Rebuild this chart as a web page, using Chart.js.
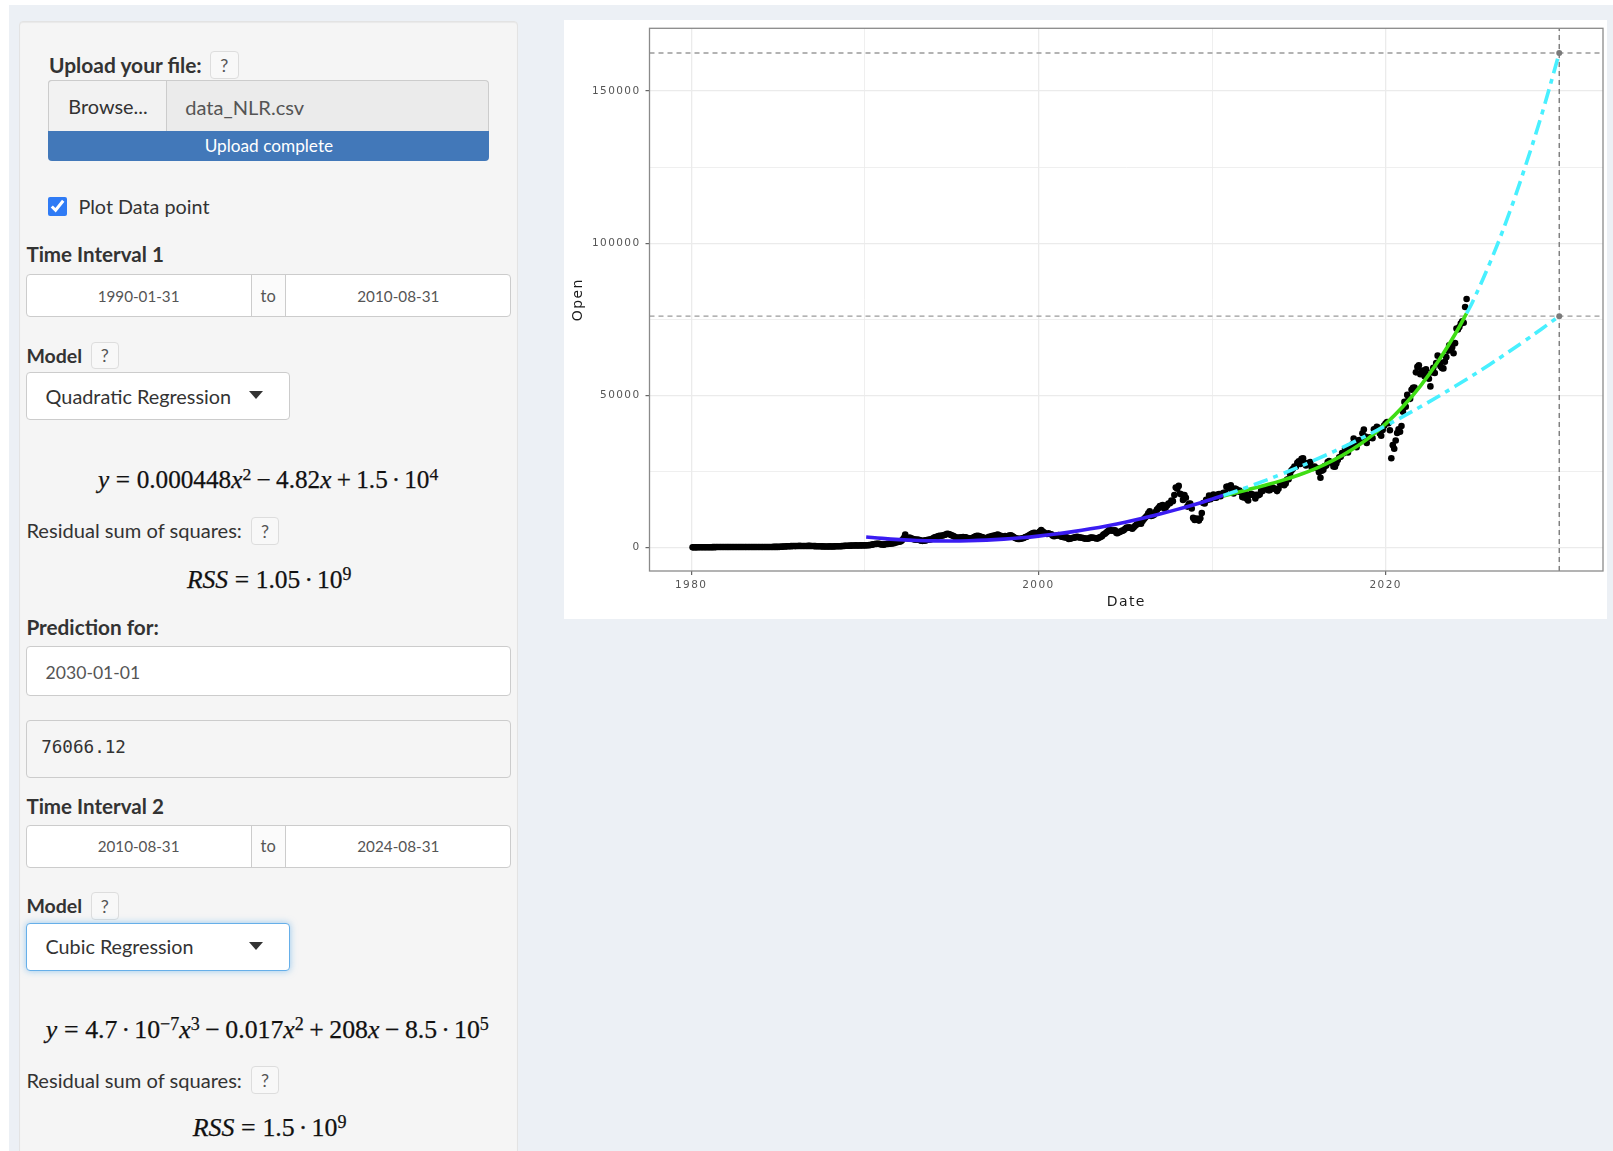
<!DOCTYPE html>
<html lang="en">
<head>
<meta charset="utf-8">
<title>Regression</title>
<script src="https://cdn.jsdelivr.net/npm/chart.js@4.4.1/dist/chart.umd.min.js"></script>
<style>
  html, body { margin: 0; padding: 0; }
  body { width: 1613px; height: 1151px; overflow: hidden; position: relative; background: #fff;
         font-family: Lato, "Noto Sans", sans-serif; color: #333; }
  #bg { position: absolute; left: 8.5px; top: 4.7px; right: 0; bottom: 0; background: #ecf0f5; }
  #sidebar { position: absolute; left: 18.6px; top: 20.7px; width: 499.4px; height: 1150px; box-sizing: border-box;
             background: #f5f5f5; border: 1px solid #e3e3e3; border-radius: 4px; box-shadow: inset 0 1px 1px rgba(0,0,0,.05); }
  .t { position: absolute; white-space: nowrap; line-height: 1; transform: translateY(-50%); font-size: 19px; }
  .c { transform: translate(-50%, -50%); }
  .b { font-weight: 700; color: #333; }
  .box { position: absolute; box-sizing: border-box; }
  .help { border: 1px solid #ddd; border-radius: 4px; background: #f8f8f8; color: #555; font-size: 18px;
          display: flex; align-items: center; justify-content: center; }
  .inp { background: #fff; border: 1px solid #ccc; border-radius: 4px; }
  .addon { background: #fbfbfb; border-left: 1px solid #ccc; border-right: 1px solid #ccc; }
  .date { font-size: 15.5px; color: #555; }
  .caret { position: absolute; width: 0; height: 0; border-left: 7.3px solid transparent; border-right: 7.3px solid transparent; border-top: 8px solid #333; }
  .m { font-family: "Liberation Serif", "DejaVu Serif", serif; font-size: 25px; color: #111; -webkit-text-stroke: 0.25px #111; }
  .m i { font-style: italic; }
  .m sup { font-size: 0.7em; position: relative; top: -0.45em; vertical-align: baseline; line-height: 0; }
  .rel { margin: 0 0.26em; }
  .bin { margin: 0 0.21em; }
  .dt { margin: 0 0.16em; }
  .mono { font-family: "DejaVu Sans Mono", "Liberation Mono", monospace; font-size: 17px; color: #333; }
  #chart { position: absolute; left: 564px; top: 20px; background: #fff; }
</style>
</head>
<body>
<div id="bg"></div>
<div id="sidebar"></div>

<!-- file upload -->
<span class="t b" data-w="152.8" style="left:49px;top:65px">Upload your file:</span>
<div class="box help" style="left:210px;top:50.7px;width:28.6px;height:28.6px">?</div>
<div class="box" style="left:48.3px;top:80px;width:441.1px;height:50.7px;border:1px solid #ccc;border-bottom:none;background:#ebebeb;border-radius:4px 4px 0 0"></div>
<div class="box" style="left:48.3px;top:80px;width:118.3px;height:50.7px;border:1px solid #ccc;border-bottom:none;background:#f2f2f2;border-radius:4px 0 0 0"></div>
<span class="t c" data-w="79.4" style="left:108px;top:106.7px;color:#333">Browse...</span>
<span class="t" data-w="119" style="left:185.2px;top:106.7px;color:#555">data_NLR.csv</span>
<div class="box" style="left:48.3px;top:130.7px;width:441.1px;height:30px;background:#4278b9;border-radius:0 0 4px 4px"></div>
<span class="t c" data-w="128.5" style="left:268.9px;top:145.7px;font-size:16px;color:#fff">Upload complete</span>

<input type="checkbox" checked style="position:absolute;left:48.3px;top:196.7px;width:19px;height:19px;margin:0;accent-color:#2f7bf5">
<span class="t" data-w="131.2" style="left:78.4px;top:206.7px">Plot Data point</span>

<!-- interval 1 -->
<span class="t b" data-w="137.6" style="left:26.4px;top:254.3px">Time Interval 1</span>
<div class="box inp" style="left:26.4px;top:274px;width:484.6px;height:42.7px"></div>
<div class="box addon" style="left:250.8px;top:275px;width:34.8px;height:40.7px"></div>
<span class="t c date" data-w="81.8" style="left:138.6px;top:296.7px">1990-01-31</span>
<span class="t c date" data-w="15.2" style="left:268.2px;top:295.5px">to</span>
<span class="t c date" data-w="82.1" style="left:398.3px;top:296.7px">2010-08-31</span>

<span class="t b" data-w="55.8" style="left:26.4px;top:356px">Model</span>
<div class="box help" style="left:90.6px;top:341.7px;width:28.4px;height:27.6px">?</div>
<div class="box inp" style="left:26.4px;top:371.7px;width:263.6px;height:48.3px"></div>
<span class="t" data-w="185.6" style="left:45.6px;top:396.7px">Quadratic Regression</span>
<div class="caret" style="left:249px;top:391px"></div>

<span class="t c m" data-w="340.4" style="left:268.2px;top:480px"><i>y</i><span class="rel">=</span>0.000448<i>x</i><sup>2</sup><span class="bin">−</span>4.82<i>x</i><span class="bin">+</span>1.5<span class="dt">·</span>10<sup>4</sup></span>

<span class="t" data-w="215.6" style="left:26.4px;top:530px">Residual sum of squares:</span>
<div class="box help" style="left:250.8px;top:516.7px;width:28.4px;height:28.3px">?</div>
<span class="t c m" data-w="164.6" style="left:269.2px;top:580px"><i>RSS</i><span class="rel">=</span>1.05<span class="dt">·</span>10<sup>9</sup></span>

<!-- prediction -->
<span class="t b" data-w="132.5" style="left:26.4px;top:626.7px">Prediction for:</span>
<div class="box inp" style="left:26.4px;top:646px;width:484.6px;height:49.7px"></div>
<span class="t" data-w="94.7" style="left:45.6px;top:672.7px;color:#555">2030-01-01</span>
<div class="box" style="left:26.4px;top:720px;width:484.6px;height:58.3px;background:#f5f5f5;border:1px solid #ccc;border-radius:4px"></div>
<span class="t mono" data-w="84.8" style="left:41.2px;top:748.3px">76066.12</span>

<!-- interval 2 -->
<span class="t b" data-w="137.6" style="left:26.4px;top:805.7px">Time Interval 2</span>
<div class="box inp" style="left:26.4px;top:825px;width:484.6px;height:43.3px"></div>
<div class="box addon" style="left:250.8px;top:826px;width:34.8px;height:41.3px"></div>
<span class="t c date" data-w="81.8" style="left:138.6px;top:846.7px">2010-08-31</span>
<span class="t c date" data-w="15.2" style="left:268.2px;top:845.5px">to</span>
<span class="t c date" data-w="82.1" style="left:398.3px;top:846.7px">2024-08-31</span>

<span class="t b" data-w="55.8" style="left:26.4px;top:906px">Model</span>
<div class="box help" style="left:90.6px;top:892.3px;width:28.4px;height:27.7px">?</div>
<div class="box inp" style="left:26.4px;top:922.7px;width:263.6px;height:48px;border-color:#66afe9;box-shadow:0 0 7px rgba(102,175,233,.65)"></div>
<span class="t" data-w="148" style="left:45.6px;top:947.3px">Cubic Regression</span>
<div class="caret" style="left:249px;top:942px"></div>

<span class="t c m" data-w="443.4" style="left:267.3px;top:1030px"><i>y</i><span class="rel">=</span>4.7<span class="dt">·</span>10<sup>−7</sup><i>x</i><sup>3</sup><span class="bin">−</span>0.017<i>x</i><sup>2</sup><span class="bin">+</span>208<i>x</i><span class="bin">−</span>8.5<span class="dt">·</span>10<sup>5</sup></span>

<span class="t" data-w="215.6" style="left:26.4px;top:1080px">Residual sum of squares:</span>
<div class="box help" style="left:250.8px;top:1065.7px;width:28.4px;height:28.6px">?</div>
<span class="t c m" data-w="153.8" style="left:269.6px;top:1128.3px"><i>RSS</i><span class="rel">=</span>1.5<span class="dt">·</span>10<sup>9</sup></span>

<canvas id="chart" width="1043" height="599"></canvas>

<script>
// Monthly "Open" values (one row per year, Jan..Dec)
const dataYears = [1980, 1981, 1982, 1983, 1984, 1985, 1986, 1987, 1988, 1989,
                   1990, 1991, 1992, 1993, 1994, 1995, 1996, 1997, 1998, 1999,
                   2000, 2001, 2002, 2003, 2004, 2005, 2006, 2007, 2008, 2009,
                   2010, 2011, 2012, 2013, 2014, 2015, 2016, 2017, 2018, 2019,
                   2020, 2021, 2022, 2023, 2024];
const dataOpen = [
  [118, 121, 125, 127, 130, 134, 139, 145, 148, 150, 153, 158],
  [165, 173, 181, 190, 201, 214, 224, 229, 221, 214, 210, 219],
  [226, 219, 211, 214, 221, 229, 234, 226, 216, 211, 214, 221],
  [229, 234, 226, 216, 211, 219, 225, 231, 234, 229, 224, 226],
  [231, 236, 240, 246, 251, 254, 249, 255, 261, 269, 266, 272],
  [282, 312, 351, 389, 421, 449, 472, 498, 519, 528, 541, 532],
  [541, 562, 598, 581, 563, 549, 541, 559, 588, 601, 582, 561],
  [532, 509, 483, 471, 459, 442, 431, 419, 412, 421, 418, 432],
  [411, 423, 438, 459, 472, 481, 502, 521, 559, 598, 621, 641],
  [662, 679, 701, 718, 742, 758, 731, 742, 761, 779, 762, 771],
  [780, 800, 850, 900, 1000, 1100, 1200, 1250, 1300, 1250, 1100, 1050],
  [1000, 1100, 1200, 1250, 1300, 1350, 1400, 1500, 1600, 1800, 1900, 1950],
  [2100, 2500, 3200, 4300, 3200, 3100, 3300, 3100, 2900, 2800, 2600, 2700],
  [2600, 2500, 2300, 2250, 2300, 2400, 2500, 2600, 2700, 2800, 3000, 3300],
  [3500, 3600, 3800, 3900, 3950, 4000, 4200, 4300, 4600, 4500, 4300, 4100],
  [3900, 3700, 3400, 3200, 3300, 3300, 3400, 3500, 3450, 3400, 3100, 3100],
  [3000, 3100, 3300, 3600, 3800, 3900, 3800, 3600, 3500, 3300, 3000, 3100],
  [3300, 3600, 3600, 3800, 3900, 4000, 4200, 4300, 4000, 3900, 3600, 3600],
  [3800, 3700, 3800, 4000, 4100, 3800, 3500, 3200, 3000, 2900, 2900, 2950],
  [3100, 3200, 3500, 3600, 3900, 4200, 4500, 4700, 4900, 4800, 4700, 4900],
  [5300, 5800, 5300, 5000, 4600, 4500, 4700, 4500, 4400, 3900, 3800, 3950],
  [4000, 4200, 3900, 3600, 3500, 3400, 3400, 3300, 2900, 2950, 3100, 3250],
  [3300, 3500, 3550, 3400, 3350, 3250, 3150, 3000, 3050, 2950, 3050, 3300],
  [3350, 3250, 3200, 3050, 3000, 3300, 3500, 3750, 4300, 4600, 5000, 5400],
  [5900, 5700, 5600, 5650, 5700, 4800, 4800, 5200, 5300, 5600, 5700, 6200],
  [6600, 6550, 6700, 6500, 6250, 6700, 7200, 7600, 7900, 8600, 7900, 8800],
  [9400, 9900, 10400, 11300, 12000, 10400, 10600, 10800, 11700, 12500, 13000, 13700],
  [13800, 14000, 12900, 13100, 13900, 14500, 14600, 15500, 15300, 17300, 19800, 19400],
  [20300, 17700, 17500, 15700, 17300, 16400, 13500, 14400, 14500, 12900, 9800, 9100],
  [9600, 9400, 8900, 9700, 11400, 14700, 14500, 15700, 15700, 17100, 15900, 16900],
  [17500, 16400, 16400, 17500, 17600, 16900, 17700, 18000, 18000, 20000, 20100, 19500],
  [20500, 18300, 17800, 19400, 19200, 18500, 18800, 18200, 16700, 16500, 17700, 16100],
  [15500, 17300, 17700, 17400, 17400, 16200, 17400, 17200, 17500, 18700, 18600, 19400],
  [19500, 19900, 18900, 18900, 19500, 19800, 19400, 19300, 18600, 19400, 21200, 20800],
  [21200, 20500, 21100, 22400, 22500, 24300, 25400, 25900, 26700, 26600, 27900, 28400],
  [27500, 29200, 29400, 27900, 27000, 27800, 27700, 28100, 26300, 26200, 26700, 26200],
  [26100, 24800, 23000, 25300, 25600, 26800, 27000, 28100, 28500, 28000, 27900, 26700],
  [26600, 27700, 28800, 29700, 29900, 31100, 31000, 32500, 31700, 31300, 33300, 33100],
  [34000, 35900, 34200, 33000, 35200, 35400, 35400, 37600, 38800, 36500, 34400, 36200],
  [36100, 36300, 36000, 38900, 39000, 39700, 39400, 37500, 36800, 38700, 40100, 40800],
  [41300, 40900, 38600, 29400, 33700, 32500, 35200, 37700, 38900, 38100, 40000, 44700],
  [47900, 46300, 50200, 49100, 48900, 51900, 52500, 52600, 57600, 59400, 59900, 57000],
  [58200, 58000, 56300, 58600, 56700, 55500, 53000, 57600, 59100, 57400, 60700, 63100],
  [61000, 59600, 59000, 58900, 61100, 62600, 64700, 66500, 65000, 65800, 63900, 67200],
  [72000, 71700, 72500, 73600, 74400, 73900, 79100, 81700]
];

// Fitted curves, read at sample dates (decimal years)
const fit1Years = [1990.08, 1991, 1992, 1993, 1994, 1995, 1996, 1997, 1998, 1999, 2000,
                   2001, 2002, 2003, 2004, 2005, 2006, 2007, 2008, 2009, 2010, 2010.66];
const fit1Open  = [3530, 3060, 2670, 2390, 2240, 2200, 2290, 2490, 2810, 3250, 3810,
                   4490, 5290, 6210, 7250, 8400, 9680, 11070, 12590, 14220, 15970, 17190];
const pred1Years = [2010.66, 2012, 2014, 2016, 2018, 2020, 2022, 2024, 2026, 2028, 2030];
const pred1Open  = [17190, 19830, 24170, 28990, 34280, 40050, 46290, 53020, 60220, 67890, 76066];
const fit2Years = [2010.66, 2012, 2013, 2014, 2015, 2016, 2017, 2018, 2019, 2020, 2021, 2022, 2023, 2024, 2024.66];
const fit2Open  = [17000, 18960, 20440, 22040, 23880, 26080, 28750, 32000, 35940, 40700, 46380, 53100, 61000, 70120, 77000];
const pred2Years = [2024.66, 2025, 2026, 2027, 2028, 2029, 2030];
const pred2Open  = [77000, 80640, 93500, 108000, 124500, 142500, 162525];

// Prediction for 2030-01-01
const predDate = 2030;
const predValues = [76066.12, 162525];

// Axes
const xMin = 1977.6, xMax = 2032.52;
const yMin = -7650, yMax = 170630;
const xBreaks = [1980, 1990, 2000, 2010, 2020, 2030];
const xLabels = ['1980', '', '2000', '', '2020', ''];
const yBreaks = [0, 25000, 50000, 75000, 100000, 125000, 150000];
const yLabels = ['0', '', '50000', '', '100000', '', '150000'];

// fit sidebar text to the widths measured on the reference
function fitTexts() {
  document.querySelectorAll('[data-w]').forEach(el => {
    const target = parseFloat(el.dataset.w);
    const base = parseFloat(getComputedStyle(el).fontSize);
    const w = el.getBoundingClientRect().width;
    if (w > 0) el.style.fontSize = (base * target / w) + 'px';
  });
}
fitTexts();

function monthEnd(y, m) {
  const start = Date.UTC(y, 0, 1), end = Date.UTC(y + 1, 0, 1);
  const d = Date.UTC(y, m + 1, 0);
  return y + (d - start) / (end - start);
}
const toPoints = (xs, ys) => xs.map((x, i) => ({ x: x, y: ys[i] }));

const openPoints = [];
dataYears.forEach((yr, i) => {
  dataOpen[i].forEach((v, m) => openPoints.push({ x: monthEnd(yr, m), y: v }));
});

function labelFor(breaks, labels, v) {
  const i = breaks.indexOf(v);
  return i >= 0 ? labels[i] : '';
}
function isMajor(breaks, labels, v) {
  return labelFor(breaks, labels, v) !== '';
}

const spacingPlugin = {
  id: 'spacing',
  beforeDraw(chart) { chart.ctx.letterSpacing = '1.4px'; },
  afterDraw(chart) { chart.ctx.letterSpacing = '0px'; }
};
const panelBorder = {
  id: 'panelBorder',
  afterDatasetsDraw(chart) {
    const { ctx, chartArea: a } = chart;
    ctx.save();
    ctx.strokeStyle = '#8a8a8a';
    ctx.lineWidth = 1.3;
    ctx.strokeRect(a.left, a.top, a.right - a.left, a.bottom - a.top);
    ctx.restore();
  }
};

const refLine = { showLine: true, pointRadius: 0, borderColor: '#9a9a9a', borderWidth: 1.4, borderDash: [5, 4] };
const fitLine = { showLine: true, pointRadius: 0, borderWidth: 3.6, tension: 0.4 };

new Chart(document.getElementById('chart'), {
  type: 'scatter',
  data: {
    datasets: [
      { label: 'prediction', data: predValues.map(v => ({ x: predDate, y: v })), pointRadius: 3,
        pointBackgroundColor: '#7a7a7a', pointBorderWidth: 0 },
      Object.assign({ label: 'cubic prediction', data: toPoints(pred2Years, pred2Open),
        borderColor: '#48f0ff', borderDash: [15, 6, 5, 6] }, fitLine),
      Object.assign({ label: 'quadratic prediction', data: toPoints(pred1Years, pred1Open),
        borderColor: '#48f0ff', borderDash: [15, 6, 5, 6] }, fitLine),
      Object.assign({ label: 'cubic fit', data: toPoints(fit2Years, fit2Open), borderColor: '#3fdd14' }, fitLine),
      Object.assign({ label: 'quadratic fit', data: toPoints(fit1Years, fit1Open), borderColor: '#3a1cf2' }, fitLine),
      Object.assign({ label: 'h1', data: [{ x: xMin, y: predValues[0] }, { x: xMax, y: predValues[0] }] }, refLine),
      Object.assign({ label: 'h2', data: [{ x: xMin, y: predValues[1] }, { x: xMax, y: predValues[1] }] }, refLine),
      Object.assign({ label: 'v', data: [{ x: predDate, y: yMin }, { x: predDate, y: yMax }], borderColor: '#7a7a7a' },
        { showLine: true, pointRadius: 0, borderWidth: 1.4, borderDash: [5, 4] }),
      { label: 'Open', data: openPoints, pointRadius: 3.3, pointBackgroundColor: '#000', pointBorderWidth: 0 }
    ]
  },
  options: {
    responsive: false,
    animation: false,
    devicePixelRatio: 1,
    layout: { padding: { left: 0, right: 3.5, top: 8.3, bottom: 0 } },
    plugins: { legend: { display: false }, tooltip: { enabled: false } },
    scales: {
      x: {
        type: 'linear', min: xMin, max: xMax,
        afterBuildTicks: s => { s.ticks = xBreaks.map(v => ({ value: v })); },
        afterFit: s => { s.height = 48; s.paddingLeft = 0; s.paddingRight = 0; },
        ticks: { callback: v => labelFor(xBreaks, xLabels, v), color: '#555', padding: 4,
                 font: { family: 'DejaVu Sans', size: 10.5 }, maxRotation: 0, autoSkip: false },
        grid: { color: '#ebebeb', tickLength: 4, tickWidth: 1.1,
                lineWidth: c => (c.tick && isMajor(xBreaks, xLabels, c.tick.value)) ? 1.3 : 0.8,
                tickColor: c => (c.tick && isMajor(xBreaks, xLabels, c.tick.value)) ? '#555' : 'rgba(0,0,0,0)' },
        border: { display: false },
        title: { display: true, text: 'Date', color: '#1a1a1a', font: { family: 'DejaVu Sans', size: 14 },
                 padding: { top: 0, bottom: 7.9 } }
      },
      y: {
        type: 'linear', min: yMin, max: yMax,
        afterBuildTicks: s => { s.ticks = yBreaks.map(v => ({ value: v })); },
        afterFit: s => { s.width = 85.5; s.paddingTop = 0; s.paddingBottom = 0; },
        ticks: { callback: v => labelFor(yBreaks, yLabels, v), color: '#555', padding: 5,
                 font: { family: 'DejaVu Sans', size: 10.5 }, autoSkip: false },
        grid: { color: '#ebebeb', tickLength: 4, tickWidth: 1.1,
                lineWidth: c => (c.tick && isMajor(yBreaks, yLabels, c.tick.value)) ? 1.3 : 0.8,
                tickColor: c => (c.tick && isMajor(yBreaks, yLabels, c.tick.value)) ? '#555' : 'rgba(0,0,0,0)' },
        border: { display: false },
        title: { display: true, text: 'Open', color: '#1a1a1a', font: { family: 'DejaVu Sans', size: 14 },
                 padding: { top: 6.1, bottom: 0 } }
      }
    }
  },
  plugins: [spacingPlugin, panelBorder]
});
</script>
</body>
</html>
